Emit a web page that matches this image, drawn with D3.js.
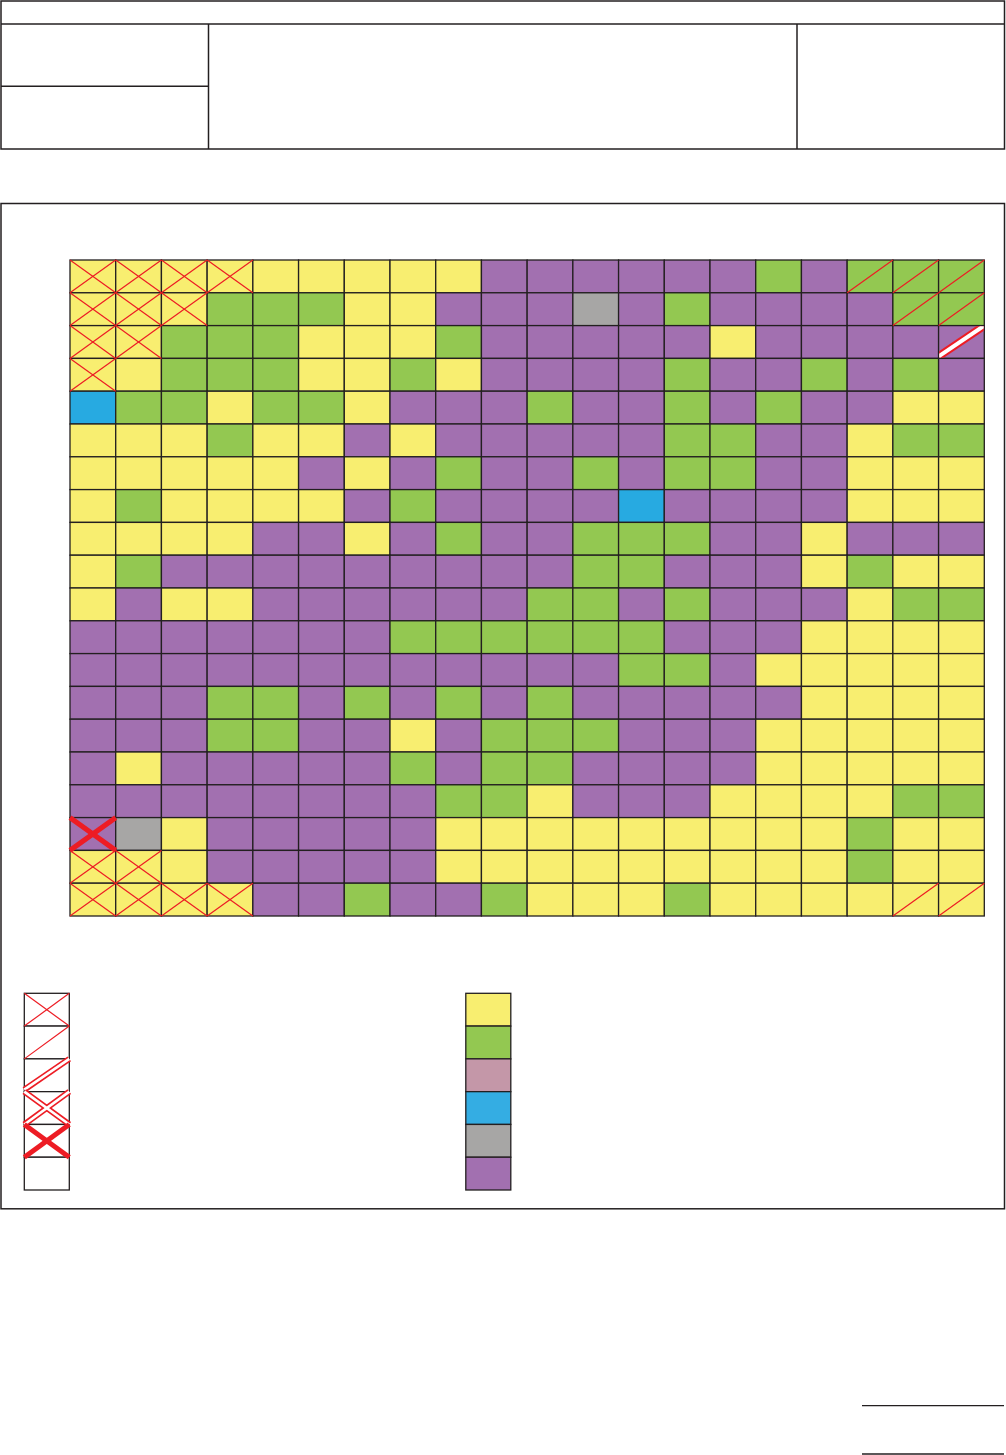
<!DOCTYPE html>
<html><head><meta charset="utf-8">
<script src="https://cdn.jsdelivr.net/npm/d3@7"></script>
<style>html,body{margin:0;padding:0;background:#fff}svg{display:block}</style>
</head><body>
<script>
// ---- data ----
const columns = ["c1","c2","c3","c4","c5","c6","c7","c8","c9","c10","c11","c12","c13","c14","c15","c16","c17","c18","c19","c20"];
const rowIds = ["r1","r2","r3","r4","r5","r6","r7","r8","r9","r10","r11","r12","r13","r14","r15","r16","r17","r18","r19","r20"];
// Y yellow, G green, P purple, B blue, S grey, M mauve
const cellRows = [
  "YYYYYYYYYPPPPPPGPGGG",
  "YYYGGGYYPPPSPGPPPPGG",
  "YYGGGYYYGPPPPPYPPPPP",
  "YYGGGYYGYPPPPGPPGPGP",
  "BGGYGGYPPPGPPGPGPPYY",
  "YYYGYYPYPPPPPGGPPYGG",
  "YYYYYPYPGPPGPGGPPYYY",
  "YGYYYYPGPPPPBPPPPYYY",
  "YYYYPPYPGPPGGGPPYPPP",
  "YGPPPPPPPPPGGPPPYGYY",
  "YPYYPPPPPPGGPGPPPYGG",
  "PPPPPPPGGGGGGPPPYYYY",
  "PPPPPPPPPPPPGGPYYYYY",
  "PPPGGPGPGPGPPPPPYYYY",
  "PPPGGPPYPGGGPPPYYYYY",
  "PYPPPPPGPGGPPPPYYYYY",
  "PPPPPPPPGGYPPPYYYYGG",
  "PSYPPPPPYYYYYYYYYGYY",
  "YYYPPPPPYYYYYYYYYGYY",
  "YYYYPPGPPGYYYGYYYYYY"
];
// hatch marks: [row, column] (1-based)
const thinXCells = [[1,1],[1,2],[1,3],[1,4],[2,1],[2,2],[2,3],[3,1],[3,2],[4,1],[19,1],[19,2],[20,1],[20,2],[20,3],[20,4]];
const thinDiagCells = [[1,18],[1,19],[1,20],[2,19],[2,20],[20,19],[20,20]];
const doubleDiagCells = [[3,20]];
const thickXCells = [[18,1]];
const legendPatterns = ["thinX","thinDiag","doubleDiag","doubleX","thickX","none"];
const legendColors = ["Y","G","M","B","S","P"];

const colorMap = {Y:"#f8ee70", G:"#93c851", P:"#a270b0", B:"#27aae1", S:"#a7a6a5", M:"#c497a8"};
const legendColorMap = {Y:"#f8ee70", G:"#93c851", P:"#a270b0", B:"#34ade3", S:"#a7a6a5", M:"#c497a8"};

// ---- drawing ----
const W = 1006, H = 1455;
const INK = "#231f20", RED = "#ed1c24";
const svg = d3.select("body").append("svg").attr("width", W).attr("height", H);
const defs = svg.append("defs");

// header frame
const hdr = svg.append("g").attr("fill","none").attr("stroke",INK).attr("stroke-width",1.5);
hdr.append("rect").attr("x",1).attr("y",1).attr("width",1003.5).attr("height",148);
hdr.append("line").attr("x1",1).attr("x2",1004.5).attr("y1",24).attr("y2",24);
hdr.append("line").attr("x1",208.5).attr("x2",208.5).attr("y1",24).attr("y2",149);
hdr.append("line").attr("x1",797).attr("x2",797).attr("y1",24).attr("y2",149);
hdr.append("line").attr("x1",1).attr("x2",208.5).attr("y1",86.3).attr("y2",86.3);

// main frame
svg.append("rect").attr("x",1).attr("y",203.5).attr("width",1003.5).attr("height",1005.3)
  .attr("fill","none").attr("stroke",INK).attr("stroke-width",1.5);

// bottom-right lines
svg.append("line").attr("x1",862).attr("x2",1004).attr("y1",1405.7).attr("y2",1405.7).attr("stroke",INK).attr("stroke-width",1.3);
svg.append("line").attr("x1",862).attr("x2",1004).attr("y1",1454).attr("y2",1454).attr("stroke",INK).attr("stroke-width",1.3);

// grid
const x = d3.scaleBand().domain(columns).range([70, 984.3]).padding(0);
const y = d3.scaleBand().domain(rowIds).range([260, 916]).padding(0);

const cells = [];
cellRows.forEach((row, ri) => row.split("").forEach((code, ci) => cells.push({r: rowIds[ri], c: columns[ci], code})));

const grid = svg.append("g");
grid.selectAll("rect").data(cells).join("rect")
  .attr("x", d => x(d.c)).attr("y", d => y(d.r))
  .attr("width", x.bandwidth()).attr("height", y.bandwidth())
  .attr("fill", d => colorMap[d.code])
  .attr("stroke", INK).attr("stroke-width", 1.3);

let clipN = 0;
function drawPattern(g, kind, x0, y0, w, h, opts = {}) {
  const x1 = x0 + w, y1 = y0 + h;
  const line = (gg, s, col, sw) => gg.append("line").attr("x1",s[0]).attr("y1",s[1]).attr("x2",s[2]).attr("y2",s[3]).attr("stroke",col).attr("stroke-width",sw);
  if (kind === "thinX") {
    line(g, [x0,y0,x1,y1], RED, 1.2);
    line(g, [x0,y1,x1,y0], RED, 1.2);
  } else if (kind === "thinDiag") {
    line(g, [x0,y1,x1,y0], RED, 1.2);
  } else if (kind === "doubleDiag" || kind === "doubleX") {
    let gg = g;
    if (opts.clip) {
      const id = "clip" + (clipN++);
      defs.append("clipPath").attr("id", id).append("rect").attr("x",x0+0.6).attr("y",y0+0.6).attr("width",w-1.2).attr("height",h-1.2);
      gg = g.append("g").attr("clip-path", `url(#${id})`);
    }
    const outer = opts.outer || 6, inner = opts.inner || 2.6;
    const segs = kind === "doubleDiag" ? [[x0,y1-2,x1,y0]] : [[x0,y0,x1,y1],[x0,y1,x1,y0]];
    segs.forEach(s => line(gg, s, RED, outer));
    segs.forEach(s => line(gg, s, "#fff", inner));
  } else if (kind === "thickX") {
    line(g, [x0,y0,x1,y1], RED, 5);
    line(g, [x0,y1,x1,y0], RED, 5);
  }
}

const hatch = svg.append("g");
const cellPat = (list, kind, opts) => list.forEach(([r, c]) =>
  drawPattern(hatch, kind, x(columns[c-1]), y(rowIds[r-1]), x.bandwidth(), y.bandwidth(), opts));
cellPat(thinXCells, "thinX");
cellPat(thinDiagCells, "thinDiag");
cellPat(doubleDiagCells, "doubleDiag", {clip: true, outer: 8, inner: 4});
cellPat(thickXCells, "thickX");

// legends
const ly = d3.scaleBand().domain(d3.range(6)).range([993.3, 1190]).padding(0);
const legL = svg.append("g");
legendPatterns.forEach((p, i) => {
  legL.append("rect").attr("x",24.3).attr("y",ly(i)).attr("width",45).attr("height",ly.bandwidth())
    .attr("fill","#fff").attr("stroke",INK).attr("stroke-width",1.3);
});
legendPatterns.forEach((p, i) => drawPattern(legL, p, 24.3, ly(i), 45, ly.bandwidth()));

const legR = svg.append("g");
legendColors.forEach((c, i) => {
  legR.append("rect").attr("x",465.8).attr("y",ly(i)).attr("width",45).attr("height",ly.bandwidth())
    .attr("fill",legendColorMap[c]).attr("stroke",INK).attr("stroke-width",1.3);
});
</script>
</body></html>
